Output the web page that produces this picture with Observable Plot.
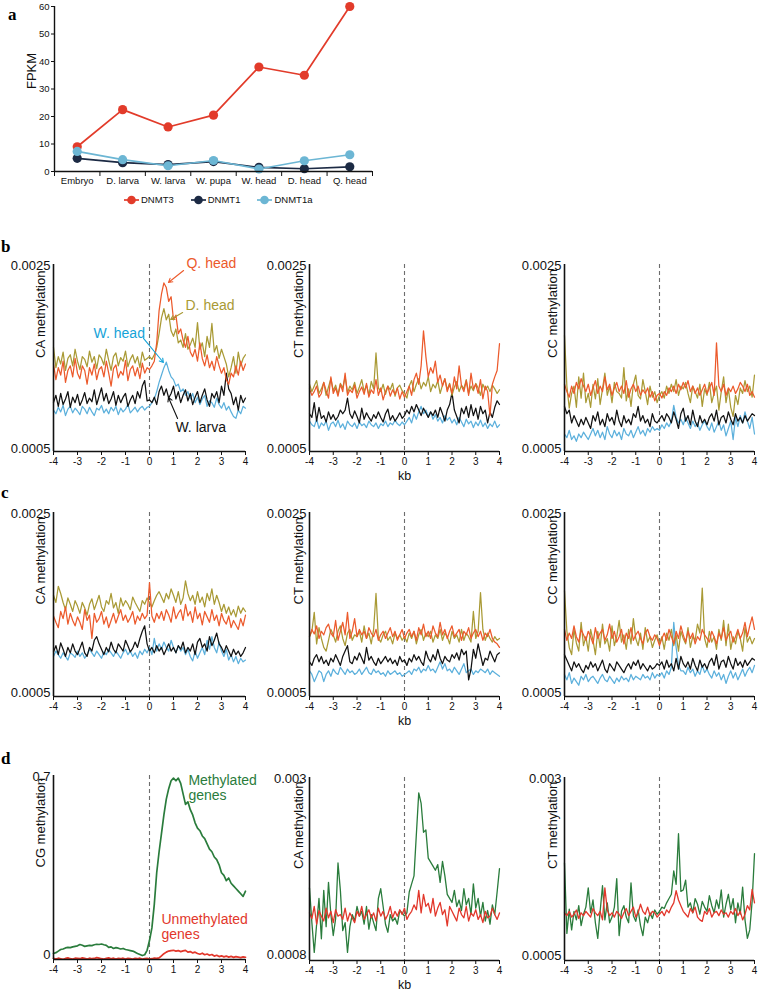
<!DOCTYPE html>
<html><head><meta charset="utf-8">
<script src="https://cdn.jsdelivr.net/npm/d3@7"></script>
<script src="https://cdn.jsdelivr.net/npm/@observablehq/plot@0.6"></script>
<style>
body{margin:0;background:#fff;}
#root{position:relative;width:759px;height:993px;overflow:hidden;font-family:"Liberation Sans",Arial,Helvetica,sans-serif;color:#111;}
.pane{position:absolute;}
</style></head><body><div id="root"></div>
<script>
// ---------------- Panel a data ----------------
const stages = ["Embryo","D. larva","W. larva","W. pupa","W. head","D. head","Q. head"];
const genes = ["DNMT3","DNMT1","DNMT1a"];
const geneColors = ["#e23b2a","#1c2a44","#6cb6d4"];
const fpkmDNMT3 = [9.0,22.5,16.2,20.5,38.0,35.0,60.0];
const fpkmDNMT1 = [4.8,3.2,2.5,3.6,1.5,1.0,1.7];
const fpkmDNMT1a = [7.3,4.3,2.1,4.0,0.9,3.9,6.1];
const fpkmTicks = [0,10,20,30,40,50,60];

// ---------------- profile bins ----------------
const kbStart = -4, kbEnd = 4, kbBinCount = 81;
const kbTicks = [-4,-3,-2,-1,0,1,2,3,4];

// castes for b / c (values in units of 1e-5)
const castes = ["W. head","W. larva","D. head","Q. head"];
const casteColors = ["#5cb0dc","#111111","#a99a35","#ec5a2c"];

// b: CA
const bCA_W = [92,88,95,90,97,86,93,96,89,94,91,87,96,93,88,95,90,86,94,92,97,89,93,88,95,91,96,87,94,90,93,98,89,92,95,90,94,96,92,95,96,100,104,112,122,130,138,144,135,128,125,118,120,112,115,108,112,104,110,100,106,98,104,108,96,102,100,95,105,98,94,100,92,96,90,85,83,92,88,96,94];
const bCA_L = [100,108,96,110,98,104,112,95,106,100,109,97,103,111,99,105,101,114,98,107,116,102,110,99,104,112,97,108,100,106,110,96,103,108,99,112,105,118,124,102,103,100,106,98,112,118,108,115,105,110,118,104,112,100,108,114,102,110,98,106,112,100,108,115,103,96,110,105,112,100,118,108,132,115,110,98,106,92,108,100,105];
const bCA_D = [160,138,150,142,155,135,148,152,140,158,145,136,150,147,139,156,144,150,137,152,148,141,158,146,135,150,154,140,149,145,156,139,147,152,143,150,138,155,146,148,150,147,152,160,175,192,202,190,196,178,172,180,165,168,160,175,158,163,170,160,187,158,165,150,172,160,186,155,162,148,158,150,142,128,138,150,132,155,140,148,152];
const bCA_Q = [142,125,138,130,145,122,135,140,128,148,132,126,140,135,120,138,130,142,125,136,139,128,145,132,118,137,141,127,134,130,146,124,136,140,129,138,126,143,132,138,136,140,145,165,200,218,230,225,210,215,190,195,175,180,168,160,172,155,150,158,145,165,148,140,152,138,145,135,150,140,132,138,125,120,132,128,140,130,145,135,142];
// b: CT
const bCT_W = [80,76,74,82,72,78,75,80,70,77,79,74,81,73,77,71,80,76,74,78,72,79,75,77,73,80,76,74,78,72,77,75,80,74,78,76,81,77,75,79,76,80,84,78,88,82,90,96,88,92,85,90,82,87,80,84,78,86,81,84,78,82,76,84,79,74,82,77,80,73,79,75,81,74,78,72,77,74,80,73,76];
const bCT_L = [88,84,100,80,95,83,86,79,90,82,87,81,85,92,88,92,105,88,83,91,85,78,94,82,89,84,80,87,83,90,84,79,88,93,81,86,80,84,89,83,86,92,88,96,90,98,92,86,94,89,84,90,86,92,84,95,88,80,92,98,111,92,85,78,94,88,96,84,98,86,94,82,96,88,92,78,90,84,95,102,98];
const bCT_D = [120,112,118,124,110,115,122,108,117,126,113,119,109,121,116,128,111,118,114,122,110,117,125,112,119,108,123,115,154,116,112,120,109,118,114,121,107,116,119,113,110,105,118,124,112,120,126,115,122,118,128,112,120,116,124,110,119,126,114,121,108,117,123,112,119,115,125,110,118,113,121,116,108,120,114,118,112,119,115,110,114];
const bCT_Q = [115,108,112,118,106,110,122,113,105,128,110,116,107,120,112,132,108,114,111,119,105,112,117,109,121,106,114,110,125,108,116,103,112,118,107,114,109,116,104,112,106,112,118,108,125,132,120,140,178,150,128,138,132,145,122,130,118,126,112,120,110,128,115,140,118,112,124,108,132,115,120,110,125,104,118,112,86,120,128,135,164];
// b: CC
const bCC_W = [66,62,70,60,64,58,66,62,68,64,60,66,72,64,70,62,68,60,74,66,62,70,64,68,60,72,66,64,70,62,68,74,66,70,64,72,68,74,70,72,70,76,72,78,74,80,97,84,78,82,76,84,78,72,80,74,78,70,76,80,74,70,78,68,74,80,70,76,64,72,80,60,84,74,86,78,90,80,72,84,66];
const bCC_L = [96,88,92,78,86,80,74,82,76,84,78,72,86,80,90,76,82,74,88,80,84,76,92,80,74,86,78,82,76,88,84,96,80,86,78,82,74,88,80,78,82,86,80,88,84,78,90,82,72,88,94,80,86,76,92,80,74,86,78,82,76,84,88,80,92,76,84,86,78,90,82,76,88,80,84,78,86,80,84,88,86];
const bCC_D = [173,118,94,110,118,95,128,105,132,100,110,95,120,104,126,98,115,132,108,118,100,122,112,110,105,138,102,115,96,120,130,108,104,125,112,98,118,106,112,100,108,112,105,118,110,120,112,125,108,118,115,122,110,100,118,112,105,120,96,115,108,122,100,110,118,92,112,128,100,115,95,85,108,98,116,110,124,112,118,106,130];
const bCC_Q = [120,112,106,118,110,122,115,126,118,112,120,108,116,124,110,118,112,128,114,120,108,116,122,112,118,110,124,106,115,120,112,118,108,114,110,116,106,112,102,108,110,105,112,108,116,112,118,110,120,114,122,116,124,112,118,110,116,108,114,120,110,116,122,108,165,118,112,120,108,116,112,118,110,115,122,118,112,120,108,112,106];

// c: CA
const cCA_W = [90,96,92,88,94,90,86,94,92,89,96,90,94,88,92,98,94,90,96,92,88,95,92,98,94,90,96,92,88,94,98,92,96,90,94,88,96,92,98,94,100,92,110,96,104,98,106,100,96,108,100,94,102,96,100,92,98,90,85,96,88,94,100,92,108,98,112,100,94,106,96,90,98,86,92,84,90,82,88,84,86];
const cCA_L = [95,102,92,105,98,90,100,94,104,96,92,99,106,94,90,100,96,108,112,104,98,92,100,95,106,98,94,104,100,96,108,102,95,99,106,100,110,118,124,104,96,100,94,102,96,100,92,98,104,96,100,94,102,98,106,94,100,96,104,92,106,110,100,104,96,112,102,108,116,104,100,94,102,96,90,98,92,96,90,94,100];
const cCA_D = [158,150,168,160,150,142,155,148,140,152,146,138,150,144,136,148,154,142,150,158,145,140,152,148,160,144,150,138,155,146,152,148,142,156,150,145,140,152,148,155,150,145,152,158,162,156,150,160,154,165,158,150,162,148,155,174,160,152,158,148,162,150,156,145,160,152,165,148,158,150,140,148,138,145,136,142,134,146,138,144,140];
const cCA_Q = [135,128,122,140,132,145,126,138,130,124,134,128,120,142,130,136,110,138,128,132,140,126,134,122,130,138,127,135,142,130,136,128,133,140,126,135,130,138,132,136,172,135,128,138,132,140,130,142,136,128,145,132,138,142,130,148,135,140,128,145,132,138,125,140,134,128,142,130,136,124,138,130,126,135,122,130,125,120,132,124,136];
// c: CT
const cCT_W = [74,70,62,68,74,72,62,70,74,68,76,72,70,78,74,70,76,72,74,70,72,76,70,74,78,72,70,76,72,74,70,72,68,74,70,72,74,70,72,68,70,72,74,70,76,74,78,72,76,74,80,74,76,72,78,84,76,82,74,76,72,78,74,70,76,82,72,74,76,70,74,72,76,74,72,76,70,74,72,70,68];
const cCT_L = [84,80,88,92,84,90,82,86,80,88,84,92,86,80,90,96,102,84,82,90,86,94,88,82,100,86,90,84,80,88,82,86,90,84,88,82,86,80,90,84,86,80,88,84,92,86,90,84,80,96,88,84,92,86,98,88,82,90,86,84,92,88,94,86,98,92,96,64,76,98,88,104,92,80,88,86,96,90,84,92,94];
const cCT_D = [112,118,139,104,122,110,100,96,108,120,114,106,118,124,110,102,116,120,108,114,112,118,106,124,110,116,104,120,160,110,106,114,118,108,112,104,116,110,114,108,112,106,116,110,118,104,114,120,108,116,112,118,106,114,110,120,108,116,112,104,118,110,114,106,120,108,116,112,106,140,110,118,161,120,108,116,110,106,112,108,110];
const cCT_Q = [112,120,115,124,110,118,114,122,126,116,112,130,108,118,128,114,139,110,118,132,112,120,114,118,110,122,116,112,120,108,114,118,110,116,122,112,118,108,114,120,110,116,120,112,118,108,122,114,126,112,118,110,124,116,112,128,114,120,110,118,124,112,116,120,108,118,114,122,110,116,120,112,118,108,116,112,120,110,106,104,100];
// c: CC
const cCC_W = [70,64,72,60,66,62,58,68,64,70,62,66,68,64,60,66,70,64,62,68,64,60,66,62,68,64,66,62,70,64,68,66,64,70,66,68,64,72,66,70,68,72,66,74,70,78,128,100,80,74,74,70,78,72,76,68,74,70,80,72,76,70,66,74,68,72,64,70,60,68,74,66,72,64,70,76,68,74,78,72,80];
const cCC_L = [92,86,80,74,84,78,82,76,72,80,76,84,78,82,74,80,86,76,72,82,78,74,84,80,76,72,78,82,76,84,80,86,76,82,78,74,80,76,78,82,80,84,76,86,78,82,74,88,76,90,82,78,84,76,88,80,74,86,78,82,76,84,88,80,92,76,84,86,78,90,82,76,88,80,84,78,86,80,84,88,86];
const cCC_D = [163,118,100,92,120,105,96,128,102,112,96,120,108,92,118,100,126,104,110,96,124,102,112,130,106,114,98,120,104,132,110,102,116,98,122,106,112,100,108,114,104,112,98,116,108,120,102,114,96,118,110,104,122,100,112,108,126,116,166,110,100,118,106,112,98,120,108,130,102,126,98,112,104,118,110,96,122,106,112,104,110];
const cCC_Q = [120,108,116,110,124,112,106,120,114,108,118,112,104,122,110,116,120,108,114,126,110,118,106,112,120,104,116,110,122,108,114,118,110,104,116,120,112,108,114,110,102,110,116,108,120,112,104,118,110,124,114,106,118,110,116,104,112,108,120,114,110,106,118,112,104,116,110,122,108,114,118,106,112,120,110,116,128,112,124,134,120];

// d: gene groups
const geneGroups = ["Methylated genes","Unmethylated genes"];
const groupColors = ["#2a7c3c","#e2372b"];
// CG (units of 0.01)
const dCG_M = [2.3,2.6,3.2,3.8,4.0,4.4,4.6,4.5,4.8,5.0,5.2,5.7,5.4,5.0,5.2,5.4,5.3,5.6,5.8,5.7,5.9,5.6,5.4,4.6,4.8,4.2,4.5,4.3,4.0,4.2,3.8,3.6,3.4,3.2,2.8,2.3,1.9,1.5,1.8,3.5,7.2,12,21,33,41,48,55,61,65,68,69,68,69,67,63,59,60,57,55,52,50,49,47,46,44,42,41,39,38,36,33,32,30,31,29,28,27,26,25,24,26];
const dCG_U = [0.4,0.2,0.5,0.3,0.1,0.4,0.6,0.3,0.2,0.5,0.4,0.3,0.6,0.4,0.2,0.5,0.3,0.4,0.7,0.5,0.3,0.2,0.4,0.6,0.3,0.5,0.2,0.4,0.3,0.5,0.2,0.4,0.3,0.2,0.4,0.3,0.5,0.2,0.3,0.4,0.2,0.3,0.5,0.4,0.6,1.4,2.2,2.8,3.2,3.4,3.5,3.2,3.4,3.0,3.3,3.5,2.8,3.0,2.5,2.8,2.3,2.0,2.4,1.8,2.1,1.6,1.9,1.3,1.6,1.1,1.4,1.0,1.3,0.9,1.2,0.8,1.1,0.9,0.7,1.0,0.8];
// CA (units of 1e-5)
const dCA_M = [163,120,83,118,150,100,160,115,170,130,104,125,194,160,110,120,83,115,130,122,140,128,134,118,140,112,130,120,110,150,162,140,118,108,130,122,126,118,135,132,128,132,158,168,178,230,281,268,232,235,200,195,190,185,192,170,196,178,155,150,145,160,140,148,135,162,142,150,130,168,138,150,128,145,122,135,118,142,130,158,187];
const dCA_U = [132,125,140,118,135,128,122,138,126,134,120,136,128,130,124,138,122,132,126,120,134,128,140,124,130,136,126,132,122,138,128,134,124,130,140,126,134,128,136,130,138,124,130,134,142,136,160,132,155,140,144,132,150,128,138,145,130,136,116,140,134,128,122,138,130,126,140,122,132,128,136,124,130,120,134,126,128,138,130,124,132];
// CT (units of 1e-5)
const dCT_M = [180,81,115,86,112,100,120,92,108,118,145,110,128,96,74,112,148,100,124,96,104,118,158,78,112,120,104,96,152,106,98,114,92,78,104,96,110,102,114,108,112,118,116,124,130,136,169,150,221,140,142,156,118,124,110,130,122,108,126,118,112,134,120,110,128,116,142,104,122,136,114,130,96,124,108,146,100,74,86,126,193];
const dCT_U = [110,106,112,104,108,114,102,110,106,112,108,104,116,110,106,112,100,145,114,106,110,104,112,108,102,110,116,106,112,118,104,110,122,112,108,118,106,112,110,104,108,112,106,114,110,118,124,141,128,120,112,108,104,116,110,118,104,100,98,112,108,116,104,110,112,106,114,108,110,104,112,108,116,106,112,100,108,120,114,143,124];

// annotations (panel b, CA) in data coordinates
const bAnnLabels = ["Q. head","D. head","W. head","W. larva"];
const bAnnColors = ["#ec5a2c","#a99a35","#15a3d8","#111111"];
const bAnnTextKb = [1.54,1.50,-2.33,1.08];
const bAnnTextVal = [0.002511,0.002055,0.001751,0.000731];
const bAnnFromKb = [1.42,1.38,-0.25,1.17];
const bAnnFromVal = [0.002435,0.001979,0.001697,0.000828];
const bAnnToKb = [0.79,0.88,0.58,0.79];
const bAnnToVal = [0.002305,0.001903,0.001436,0.001056];
// annotations (panel d, CG)
const dAnnLabels = ["Methylated\ngenes","Unmethylated\ngenes"];
const dAnnKb = [1.62,0.50];
const dAnnVal = [0.652,0.1255];

// ---------------- helpers ----------------
const FONT = '"Liberation Sans", Arial, Helvetica, sans-serif';
const root = document.getElementById("root");
const kbBins = d3.range(kbBinCount).map(i => kbStart + i * (kbEnd - kbStart) / (kbBinCount - 1));

function place(el, left, top) {
  const d = document.createElement("div");
  d.className = "pane"; d.style.left = left + "px"; d.style.top = top + "px";
  d.appendChild(el); root.appendChild(d);
}

function methPanel(o) {
  const rows = o.series.flatMap(s => s.values.map((v, i) => ({kb: kbBins[i], v: v * o.unit, name: s.name})));
  const marks = [
    Plot.ruleX([0], {stroke: "#6d6d6d", strokeWidth: 1.1, strokeDasharray: "4,3"}),
    ...o.series.map(s => Plot.line(rows.filter(r => r.name === s.name), {x: "kb", y: "v", stroke: s.color, strokeWidth: s.sw})),
    Plot.ruleX([kbStart], {stroke: "#111", strokeWidth: 1.6}),
    Plot.ruleY([o.yDomain[0]], {stroke: "#111", strokeWidth: 1.6}),
    Plot.axisX({ticks: kbTicks, tickSize: 4, tickPadding: 2, tickFormat: d => String(d), fontSize: 10, label: null}),
    Plot.text([o.yHigh], {y: d => d, frameAnchor: "left", textAnchor: "end", dx: -3, dy: 1, text: d => String(d), fontSize: 13}),
    Plot.text([o.yLow], {y: d => d, frameAnchor: "left", textAnchor: "end", dx: -3, dy: o.lowDy || 0, text: d => String(d), fontSize: 13}),
    Plot.text([o.yLabel], {frameAnchor: "left", rotate: -90, dx: o.labelDx, text: d => d, fontSize: 13})
  ];
  if (o.kb) marks.push(Plot.text(["kb"], {frameAnchor: "bottom", dy: 28, text: d => d, fontSize: 12.5}));
  if (o.extra) marks.push(...o.extra);
  return Plot.plot({
    width: o.width, height: o.height,
    marginLeft: o.ml, marginRight: 5, marginTop: o.mt, marginBottom: o.mb,
    x: {domain: [kbStart, kbEnd], label: null, axis: null},
    y: {domain: o.yDomain, label: null, axis: null},
    style: {fontFamily: FONT, fontSize: "10px", color: "#111", background: "transparent", overflow: "visible"},
    marks
  });
}

// ---------------- Panel a ----------------
const fpkmSeries = [fpkmDNMT3, fpkmDNMT1, fpkmDNMT1a];
const aRows = genes.flatMap((g, gi) => fpkmSeries[gi].map((v, i) => ({stage: i, v, g})));
const aMarks = [];
genes.forEach((g, gi) => {
  const rs = aRows.filter(r => r.g === g);
  aMarks.push(Plot.line(rs, {x: "stage", y: "v", stroke: geneColors[gi], strokeWidth: 1.7}));
  aMarks.push(Plot.dot(rs, {x: "stage", y: "v", fill: geneColors[gi], r: 4.6}));
});
const aPlot = Plot.plot({
  width: 380, height: 190, marginLeft: 54, marginRight: 8, marginTop: 6, marginBottom: 19,
  x: {domain: [-0.5, stages.length - 0.5], label: null, axis: null},
  y: {domain: [0, 60], label: null, axis: null},
  style: {fontFamily: FONT, fontSize: "9.5px", color: "#111", background: "transparent", overflow: "visible"},
  marks: [
    ...aMarks,
    Plot.ruleX([-0.5], {stroke: "#111", strokeWidth: 1.4}),
    Plot.ruleY([0], {stroke: "#111", strokeWidth: 1.4}),
    Plot.axisY({ticks: fpkmTicks, tickSize: 3, tickPadding: 2, tickFormat: d => String(d), fontSize: 9.5, label: null}),
    Plot.axisX({ticks: d3.range(stages.length), tickSize: 0, tickPadding: 6, tickFormat: i => stages[i], fontSize: 9.5, label: null}),
    Plot.axisX({ticks: d3.range(stages.length + 1).map(i => i - 0.5), tickSize: 5, tickFormat: () => "", label: null}),
    Plot.text(["FPKM"], {frameAnchor: "left", rotate: -90, dx: -23, text: d => d, fontSize: 13})
  ]
});
place(aPlot, 0, 0);

// legend for a
const leg = document.createElement("div");
leg.style.cssText = "position:absolute;left:124px;top:194px;display:flex;gap:17px;align-items:center;font-size:9.5px;";
genes.forEach((g, gi) => {
  const it = document.createElement("div");
  it.style.cssText = "display:flex;align-items:center;gap:2px;";
  it.innerHTML = `<svg width="15" height="10"><line x1="0" x2="15" y1="5" y2="5" stroke="${geneColors[gi]}" stroke-width="1.7"/><circle cx="7.5" cy="5" r="4.3" fill="${geneColors[gi]}"/></svg><span>${g}</span>`;
  leg.appendChild(it);
});
root.appendChild(leg);

// ---------------- Panels b, c ----------------
const cols = [
  {left: 0, width: 250, ml: 53, labelDx: -13},
  {left: 250, width: 254, ml: 59, labelDx: -11},
  {left: 505, width: 254, ml: 59, labelDx: -12}
];
const contexts = ["CA methylation","CT methylation","CC methylation"];
const casteSeries = (arrs) => castes.map((n, i) => ({name: n, values: arrs[i], color: casteColors[i], sw: 1.25}));

const bArrs = [[bCA_W,bCA_L,bCA_D,bCA_Q],[bCT_W,bCT_L,bCT_D,bCT_Q],[bCC_W,bCC_L,bCC_D,bCC_Q]];
const cArrs = [[cCA_W,cCA_L,cCA_D,cCA_Q],[cCT_W,cCT_L,cCT_D,cCT_Q],[cCC_W,cCC_L,cCC_D,cCC_Q]];

const bAnn = bAnnLabels.map((t, i) => ({t, c: bAnnColors[i], tx: bAnnTextKb[i], ty: bAnnTextVal[i], x1: bAnnFromKb[i], y1: bAnnFromVal[i], x2: bAnnToKb[i], y2: bAnnToVal[i]}));
const bExtra = [
  Plot.arrow(bAnn, {x1: "x1", y1: "y1", x2: "x2", y2: "y2", stroke: "c", strokeWidth: 1.1, headLength: 6}),
  Plot.text(bAnn, {x: "tx", y: "ty", text: "t", fill: "c", textAnchor: "start", fontSize: 14})
];

cols.forEach((col, ci) => {
  place(methPanel({
    series: casteSeries(bArrs[ci]), unit: 1e-5,
    yDomain: [0.00047, 0.0025], yLow: 0.0005, yHigh: 0.0025,
    yLabel: contexts[ci], labelDx: col.labelDx, kb: ci === 1,
    width: col.width, height: 240, ml: col.ml, mt: 20, mb: 33,
    extra: ci === 0 ? bExtra : null
  }), col.left, 244);
  place(methPanel({
    series: casteSeries(cArrs[ci]), unit: 1e-5,
    yDomain: [0.000455, 0.0025], yLow: 0.0005, yHigh: 0.0025,
    yLabel: contexts[ci], labelDx: col.labelDx, kb: ci === 1,
    width: col.width, height: 230, ml: col.ml, mt: 12, mb: 34
  }), col.left, 500);
});

// ---------------- Panel d ----------------
const dAnn = dAnnLabels.map((t, i) => ({t, c: groupColors[i], x: dAnnKb[i], y: dAnnVal[i]}));
const grpSeries = (arrs, sw) => geneGroups.map((n, i) => ({name: n, values: arrs[i], color: groupColors[i], sw}));
place(methPanel({
  series: grpSeries([dCG_M, dCG_U], 1.7), unit: 0.01,
  yDomain: [0, 0.7], yLow: 0, yHigh: 0.7, lowDy: -5,
  yLabel: "CG methylation", labelDx: cols[0].labelDx, kb: false,
  width: cols[0].width, height: 230, ml: cols[0].ml, mt: 12, mb: 34,
  extra: [Plot.text(dAnn, {x: "x", y: "y", text: "t", fill: "c", textAnchor: "start", fontSize: 14, lineHeight: 1.05})]
}), cols[0].left, 763);
place(methPanel({
  series: grpSeries([dCA_M, dCA_U], 1.3), unit: 1e-5,
  yDomain: [0.00073, 0.003], yLow: 0.0008, yHigh: 0.003,
  yLabel: "CA methylation", labelDx: cols[1].labelDx, kb: true,
  width: cols[1].width, height: 230, ml: cols[1].ml, mt: 14, mb: 33
}), cols[1].left, 763);
place(methPanel({
  series: grpSeries([dCT_M, dCT_U], 1.3), unit: 1e-5,
  yDomain: [0.00043, 0.003], yLow: 0.0005, yHigh: 0.003,
  yLabel: "CT methylation", labelDx: cols[2].labelDx, kb: false,
  width: cols[2].width, height: 230, ml: cols[2].ml, mt: 14, mb: 33
}), cols[2].left, 763);

// ---------------- panel letters ----------------
const letters = document.createElementNS("http://www.w3.org/2000/svg", "svg");
letters.setAttribute("width", 759); letters.setAttribute("height", 993);
letters.style.cssText = "position:absolute;left:0;top:0;pointer-events:none;";
[["a", 8, 20], ["b", 1, 252], ["c", 1, 498], ["d", 1, 764]].forEach(([t, x, y]) => {
  const e = document.createElementNS("http://www.w3.org/2000/svg", "text");
  e.setAttribute("x", x); e.setAttribute("y", y);
  e.setAttribute("font-family", '"Liberation Serif","Times New Roman",serif');
  e.setAttribute("font-weight", "bold"); e.setAttribute("font-size", "17");
  e.textContent = t; letters.appendChild(e);
});
root.appendChild(letters);
</script>
</body></html>
